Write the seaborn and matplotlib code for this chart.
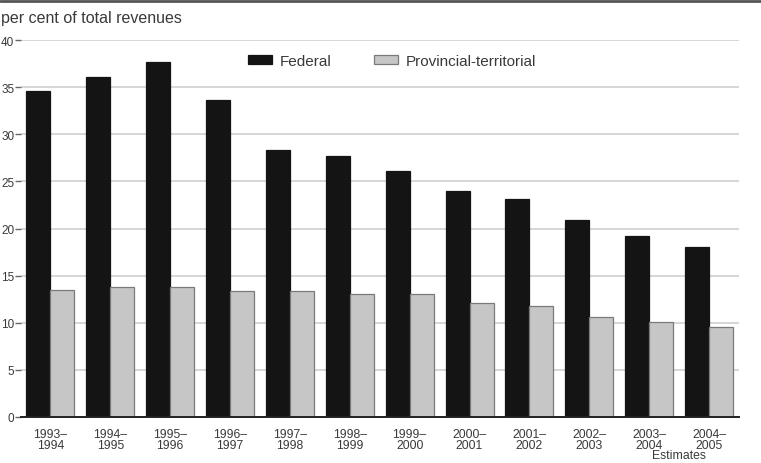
import matplotlib
matplotlib.use("Agg")
import matplotlib.pyplot as plt
import matplotlib.transforms as mtransforms
from matplotlib.lines import Line2D
from matplotlib.patches import Patch
import seaborn as sns
import pandas as pd

# Fiscal years and shares of total revenues (per cent)
years = ["1993–\n1994", "1994–\n1995", "1995–\n1996", "1996–\n1997",
         "1997–\n1998", "1998–\n1999", "1999–\n2000", "2000–\n2001",
         "2001–\n2002", "2002–\n2003", "2003–\n2004", "2004–\n2005"]
federal = [34.6, 36.1, 37.7, 33.6, 28.3, 27.7, 26.1, 24.0, 23.1, 20.9, 19.2, 18.0]
provincial = [13.5, 13.8, 13.8, 13.4, 13.4, 13.0, 13.0, 12.1, 11.8, 10.6, 10.1, 9.5]
series = ["Federal", "Provincial-territorial"]
y_ticks = [0, 5, 10, 15, 20, 25, 30, 35, 40]

df = pd.DataFrame({
    "year": years * 2,
    "share": federal + provincial,
    "level": [series[0]] * len(years) + [series[1]] * len(years),
})

sns.set_theme(style="white")
plt.rcParams["font.family"] = ["Liberation Sans", "DejaVu Sans"]

text_color = "#3a3a3a"
colors = {series[0]: "#141414", series[1]: "#c6c6c6"}
edges = {series[0]: "#141414", series[1]: "#7a7a7a"}

fig = plt.figure(figsize=(7.61, 4.64), dpi=100)
ax = fig.add_axes([20.5 / 761, 1 - 418 / 464, (739 - 20.5) / 761, (418 - 41) / 464])

sns.barplot(data=df, x="year", y="share", hue="level", order=years,
            hue_order=series, palette=colors, width=0.8, ax=ax,
            legend=False, saturation=1)

for cont, name in zip(ax.containers, series):
    for bar in cont:
        bar.set_edgecolor(edges[name])
        bar.set_linewidth(0.9)
        bar.set_zorder(3)

ax.set_ylim(0, 40)
ax.set_xlim(-0.5, len(years) - 0.5)
ax.set_yticks(y_ticks)
ax.yaxis.grid(True, color="#cfcfcf", linewidth=1.2, zorder=0)
ax.set_axisbelow(True)
for side in ["left", "right", "top"]:
    ax.spines[side].set_visible(False)
ax.spines["bottom"].set_color("#222222")
ax.spines["bottom"].set_linewidth(1.4)
ax.spines["bottom"].set_zorder(4)

ax.tick_params(axis="y", left=True, length=4, width=1, color="#666666",
               pad=0.5, labelsize=8.5, labelcolor=text_color)
ax.tick_params(axis="x", bottom=False, pad=2, labelsize=8.8, labelcolor=text_color)
for lbl in ax.get_xticklabels():
    lbl.set_linespacing(0.85)
ax.set_xlabel("")
ax.set_ylabel("")

# Projected years note
trans = mtransforms.blended_transform_factory(ax.transData, fig.transFigure)
ax.text(10.5, 1 - 456 / 464, "Estimates", transform=trans, ha="center",
        va="center", fontsize=8.8, color=text_color, clip_on=False)

# Axis title above the plot
fig.text(0.001, 1 - 18 / 464, "per cent of total revenues", ha="left",
         va="center", fontsize=11.5, color=text_color)

handles = [Patch(facecolor=colors[s], edgecolor=edges[s], linewidth=0.9) for s in series]
ax.legend(handles, series, ncol=2, frameon=False, loc="center",
          bbox_to_anchor=(392 / 761, 1 - 62 / 464), bbox_transform=fig.transFigure,
          fontsize=11, handlelength=1.6, handleheight=0.6, handletextpad=0.5,
          columnspacing=2.75, labelcolor=text_color)

# Frame line across the top of the figure
fig.add_artist(Line2D([0, 1], [1 - 2 / 464, 1 - 2 / 464], transform=fig.transFigure,
                      color="#555555", linewidth=2))

fig.savefig("out.png", dpi=100)
